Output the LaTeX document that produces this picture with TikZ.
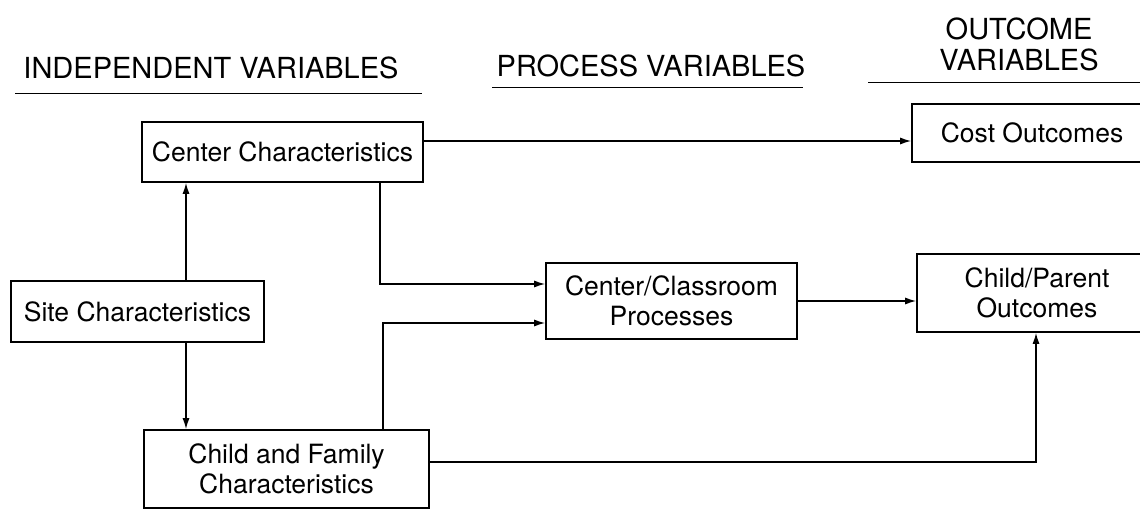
\documentclass[tikz,border=0pt]{standalone}
\usepackage{fontspec}
\setmainfont{TeX Gyre Heros}
\usetikzlibrary{arrows.meta}
\newcommand{\boxfont}{\fontsize{26.5}{30}\selectfont}
\newcommand{\hdrfont}{\fontsize{29}{31}\selectfont}
\begin{document}
\begin{tikzpicture}[x=1pt,y=-1pt,
  box/.style={draw, line width=1.7pt, inner sep=0pt, align=center, font=\boxfont},
  hdr/.style={inner sep=0pt, anchor=base, font=\hdrfont},
  rulestyle/.style={line width=1pt},
  conn/.style={line width=1.3pt, -{Latex[length=11pt,width=7pt]}}]
\clip (0,0) rectangle (1140,510);
\fill[white] (0,0) rectangle (1140,510);
% headers
\node[hdr] (h1) at (211,79) {INDEPENDENT VARIABLES};
\node[hdr] (h2) at (651,77) {PROCESS VARIABLES};
\node[hdr] (h3a) at (1019,40) {OUTCOME};
\node[hdr] (h3b) at (1019,71) {VARIABLES};
\draw[rulestyle] (15,94) -- (422,94);
\draw[rulestyle] (492,88) -- (803,88);
\draw[rulestyle] (868,83) -- (1140,83);
% boxes
\node[box, minimum width=281pt, minimum height=60pt] (cc) at (282.5,152) {Center Characteristics};
\node[box, minimum width=253pt, minimum height=61pt] (site) at (137.5,311.5) {Site Characteristics};
\node[box, minimum width=285pt, minimum height=78pt] (cf) at (286.5,469) {Child and Family\\Characteristics};
\node[box, minimum width=251pt, minimum height=76pt] (ccp) at (671.5,301) {Center/Classroom\\Processes};
\node[box, minimum width=240pt, minimum height=58pt] (cost) at (1032,133) {Cost Outcomes};
\node[box, minimum width=240pt, minimum height=78pt] (cpo) at (1037,293) {Child/Parent\\Outcomes};
% connectors
\coordinate (vx) at (186,0);
\draw[conn] (site.north -| vx) -- (cc.south -| vx);
\draw[conn] (site.south -| vx) -- (cf.north -| vx);
\coordinate (ka) at (380,284);
\draw[conn] (cc.south -| ka) |- (ccp.west |- ka);
\coordinate (kb) at (383,323);
\draw[conn] (cf.north -| kb) |- (ccp.west |- kb);
\draw[conn] (ccp.east) -- (ccp.east -| cpo.west);
\coordinate (kc) at (1036,462);
\draw[conn] (cf.east |- kc) -| (cpo.south -| kc);
\coordinate (kd) at (0,141);
\draw[conn] (cc.east |- kd) -- (cost.west |- kd);
\end{tikzpicture}
\end{document}
